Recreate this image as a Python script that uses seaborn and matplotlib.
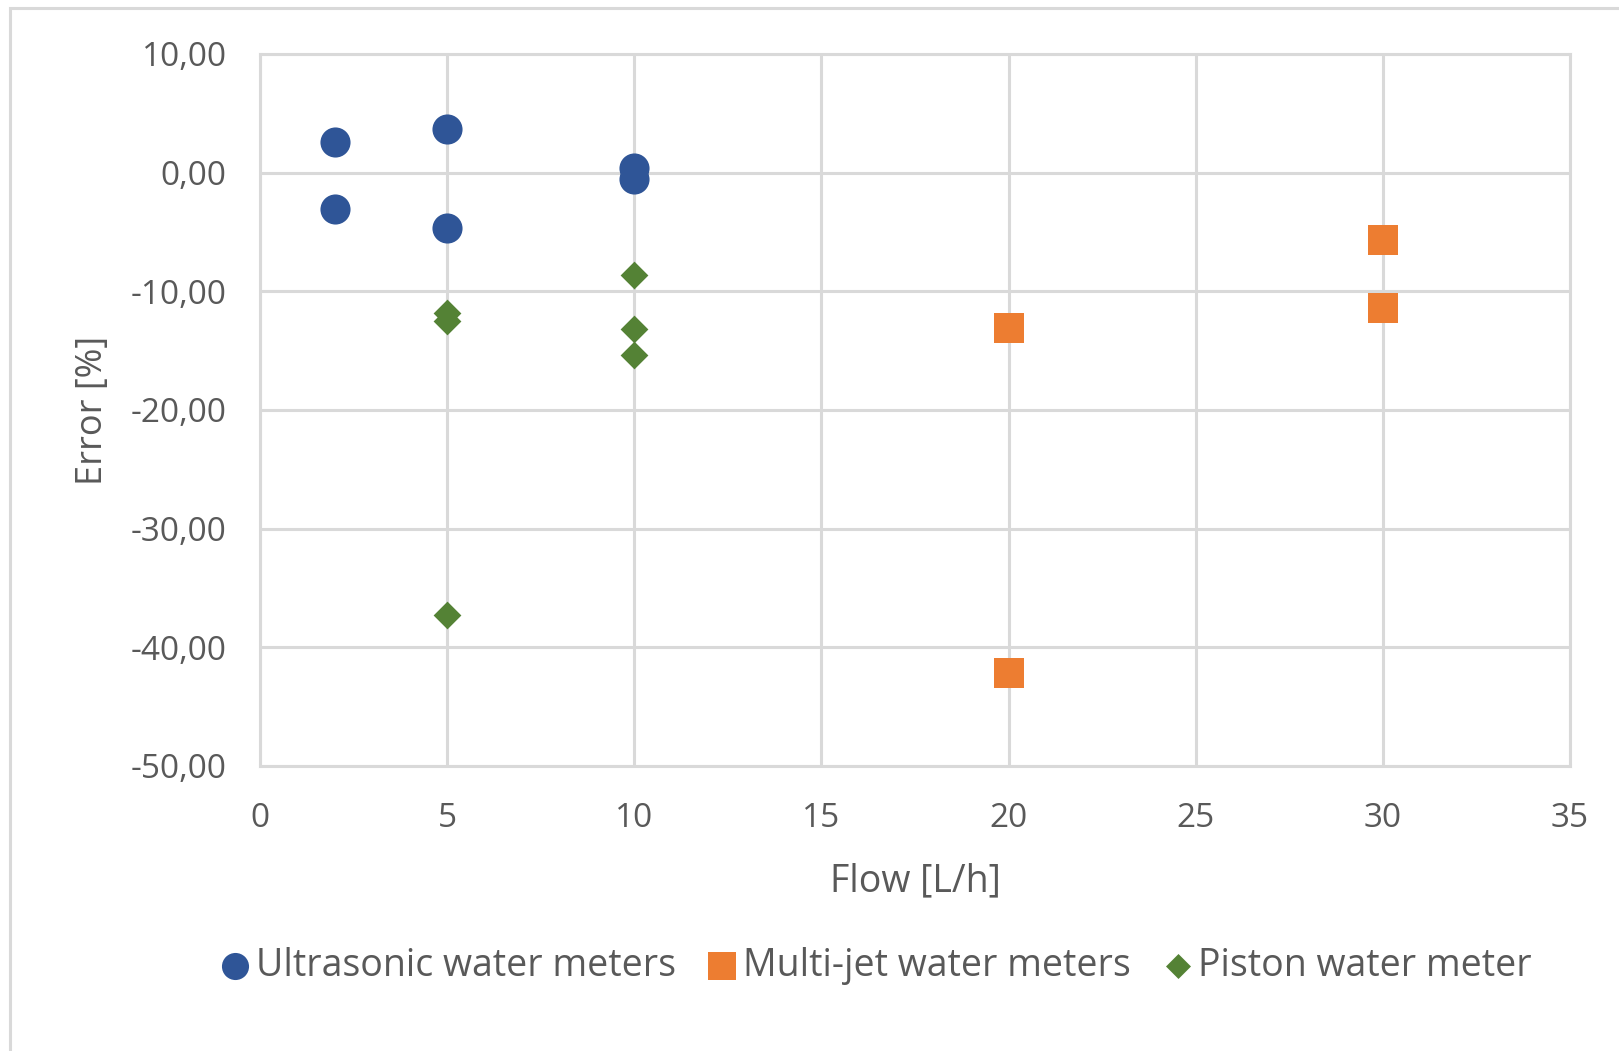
import matplotlib
matplotlib.use("Agg")
import matplotlib.pyplot as plt
import seaborn as sns
import pandas as pd
from matplotlib.patches import Rectangle
from matplotlib.ticker import FuncFormatter

# Measured meter errors at each test flow rate
ultra_flow = [2, 2, 5, 5, 10, 10]
ultra_error = [2.6, -3.1, 3.7, -4.7, 0.4, -0.5]

multi_flow = [20, 20, 30, 30]
multi_error = [-13.1, -42.2, -5.7, -11.4]

piston_flow = [5, 5, 5, 10, 10, 10]
piston_error = [-11.8, -12.5, -37.3, -8.6, -13.2, -15.4]

series_names = ["Ultrasonic water meters", "Multi-jet water meters", "Piston water meter"]

x_ticks = [0, 5, 10, 15, 20, 25, 30, 35]
y_ticks = [-50, -40, -30, -20, -10, 0, 10]

sns.set_theme(style="white")
plt.rcParams["font.family"] = ["Open Sans", "DejaVu Sans"]

text_color = "#595959"
grid_color = "#D9D9D9"

ultra = pd.DataFrame({"flow": ultra_flow, "error": ultra_error})
multi = pd.DataFrame({"flow": multi_flow, "error": multi_error})
piston = pd.DataFrame({"flow": piston_flow, "error": piston_error})

fig = plt.figure(figsize=(16.19, 10.51), dpi=100)
ax = fig.add_axes([260 / 1619, 1 - 766 / 1051, 1310 / 1619, 712 / 1051])

sns.scatterplot(data=ultra, x="flow", y="error", ax=ax, marker="o", s=470,
                color="#2F5597", linewidth=0, label=series_names[0], zorder=3)
sns.scatterplot(data=multi, x="flow", y="error", ax=ax, marker="s", s=490,
                color="#ED7D31", linewidth=0, label=series_names[1], zorder=3)
sns.scatterplot(data=piston, x="flow", y="error", ax=ax, marker="D", s=200,
                color="#548235", linewidth=0, label=series_names[2], zorder=3)

ax.set_xlim(0, 35)
ax.set_ylim(-50, 10)
ax.set_xticks(x_ticks)
ax.set_yticks(y_ticks)
ax.yaxis.set_major_formatter(FuncFormatter(lambda v, _: f"{v:.2f}".replace(".", ",")))

ax.grid(True, color=grid_color, linewidth=2.2, zorder=0)
ax.set_axisbelow(True)
for sp in ax.spines.values():
    sp.set_visible(True)
    sp.set_color(grid_color)
    sp.set_linewidth(2.2)

ax.tick_params(axis="both", length=0, labelsize=24, labelcolor=text_color)
ax.tick_params(axis="x", pad=26)
ax.tick_params(axis="y", pad=24)

ax.set_xlabel("Flow [L/h]", fontsize=27, color=text_color, labelpad=20)
ax.set_ylabel("Error [%]", fontsize=26, color=text_color, labelpad=14)

handles, labels = ax.get_legend_handles_labels()
ax.get_legend().remove()
fig.legend(handles, labels, loc="center", bbox_to_anchor=(874 / 1619, 1 - 966 / 1051),
           ncol=3, frameon=False, fontsize=27, labelcolor=text_color,
           handletextpad=0.05, columnspacing=0.75, markerscale=0.9, handlelength=1.0)

# light chart-area frame
fig.patches.append(Rectangle((10 / 1619, -0.1), 1.2, 1 - 8 / 1051 + 0.1,
                             transform=fig.transFigure, fill=False,
                             edgecolor=grid_color, linewidth=2.2))

fig.savefig("out.png", dpi=100, facecolor="white")
